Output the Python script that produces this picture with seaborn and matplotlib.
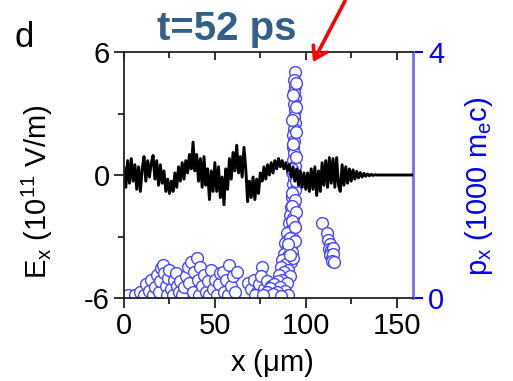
import numpy as np
import pandas as pd
import matplotlib
matplotlib.use("Agg")
import matplotlib.pyplot as plt
import seaborn as sns

# ---------------- data ----------------
# E_x (10^11 V/m) sampled every 1 um from 0 to 140 um, then flat to 160
E_x = list(range(0, 141)) + [160]
E_vals = [0.4, -0.6, 0.7, -0.4, 0.8, -0.3, 0.5, -0.7, 0.4, -0.8, 0.3,
          0.9, -0.3, 0.7, -0.1, 0.6, 0.95, -0.2, 0.7, -0.5, 0.5,
          -0.4, 0.2, -0.8, -0.2, -0.9, -0.3, -0.8, 0.1,
          -0.6, 0.4, -0.3, 0.6, -0.2, 0.7, 0.1, 1.0, 0.3, 1.6, 0.2, 1.0,
          -0.3, 0.8, -0.6, 0.9, -0.5, 0.3, -1.2, 0.2, -0.8, 0.6,
          -0.8, 0.4, -1.1, -0.1, -1.45, 0.3, -0.7, 0.8, -0.2, 1.1,
          0.2, 1.45, 0.1, 0.9, -0.1, 1.35, 0.3, -1.3, -0.3, -1.1,
          -0.1, -1.2, -0.2, -0.9, 0.1, -0.3, 0.4, -0.2, 0.5, 0.0,
          0.6, 0.1, 0.7, 0.3, 0.8, 0.4, 0.7, 0.3, 0.6, 0.2,
          0.5, -0.1, 0.4, -0.3, 0.3, -0.5, 0.2, -0.6, 0.1, -0.7,
          0.1, -0.8, 0.3, -0.7, 0.4, -1.0, 0.2, -0.8, 0.6, -0.5,
          0.7, -0.6, 0.85, -0.4, 0.8, -0.6, 0.85, -0.5, -0.8, 0.5,
          -0.5, 0.4, -0.4, 0.3, -0.3, 0.25, -0.2, 0.18, -0.14, 0.12,
          -0.1, 0.08, -0.06, 0.05, -0.04, 0.03, -0.02, 0.01, 0.0, 0.0,
          0.0]

# p_x (1000 m_e c) of particles
spike_x = [94.0, 93.8, 94.2, 93.6, 94.0, 93.4, 93.9, 93.3, 94.1, 93.5, 93.0,
           93.8, 92.8, 93.6, 93.1, 94.0, 92.7, 93.5, 92.9, 93.9, 92.5, 93.4,
           92.0, 93.6, 91.5, 92.8, 90.8, 93.3, 91.8, 89.8, 92.6, 90.5, 88.8,
           91.8, 89.5,
           92.5, 88.0, 90.5, 87.2, 91.8, 89.0, 86.5, 90.5, 88.0, 85.5, 91.5,
           87.0, 84.5, 89.5, 82.5, 86.0, 80.5, 88.5, 84.0, 78.5, 82.0, 90.5,
           86.5, 76.5,
           94.6, 92.9, 94.5, 92.6, 94.7, 92.8, 94.4, 92.4, 94.6, 92.7, 94.3,
           92.2, 94.5, 92.3, 94.2, 91.6, 94.0, 90.2, 93.0, 91.2]
spike_p = [3.67, 3.55, 3.45, 3.35, 3.25, 3.15, 3.05, 2.95, 2.85, 2.75, 2.65,
           2.55, 2.45, 2.35, 2.25, 2.15, 2.05, 1.95, 1.85, 1.75, 1.65, 1.55,
           1.48, 1.42, 1.35, 1.30, 1.22, 1.18, 1.10, 1.05, 1.00, 0.95, 0.90,
           0.85, 0.80,
           0.75, 0.72, 0.68, 0.62, 0.58, 0.55, 0.50, 0.46, 0.42, 0.38, 0.35,
           0.30, 0.28, 0.25, 0.22, 0.18, 0.16, 0.12, 0.10, 0.10, 0.06, 0.05,
           0.04, 0.05,
           3.50, 3.30, 3.10, 2.90, 2.70, 2.50, 2.30, 2.10, 1.90, 1.70, 1.60,
           1.50, 1.40, 1.25, 1.15, 0.98, 0.92, 0.88, 0.65, 0.70]
mid_x = [68, 70, 71.5, 73, 74, 76, 75.5, 77, 78.5, 80, 81, 72]
mid_p = [0.24, 0.15, 0.30, 0.10, 0.22, 0.50, 0.35, 0.15, 0.28, 0.10, 0.20, 0.05]
low_x = [2, 6, 9, 11, 12, 14, 15, 16, 17, 18, 19, 20, 20.5, 21.5, 22, 23,
         23.5, 24, 25, 26, 27, 27.5, 28.5, 29, 30, 31, 32, 33, 34, 35, 36, 37,
         38, 38.5, 40, 40.5, 41, 42, 43, 44, 45, 46, 47, 48, 49, 50, 51, 52,
         53, 54.5, 55, 56, 57, 58, 59, 60, 61, 62]
low_p = [0.05, 0.05, 0.10, 0.05, 0.22, 0.12, 0.30, 0.05, 0.18, 0.38, 0.10,
         0.28, 0.48, 0.54, 0.40, 0.20, 0.05, 0.32, 0.45, 0.15, 0.05, 0.30,
         0.40, 0.20, 0.10, 0.28, 0.05, 0.18, 0.35, 0.50, 0.25, 0.58, 0.10,
         0.42, 0.65, 0.30, 0.05, 0.50, 0.20, 0.38, 0.10, 0.28, 0.05, 0.45,
         0.15, 0.30, 0.05, 0.22, 0.40, 0.42, 0.10, 0.30, 0.05, 0.54, 0.20,
         0.35, 0.10, 0.42]
far_x = [109, 111.5, 112.5, 113.5, 112.8, 114, 114.8, 113.5, 114.5, 115, 114.2, 115.3]
far_p = [1.22, 1.05, 0.95, 0.88, 0.80, 0.78, 0.82, 0.70, 0.65, 0.72, 0.60, 0.58]

x_ticks = [0, 50, 100, 150]
E_ticks = [-6, 0, 6]
p_ticks = [0, 4]

# ---------------- style ----------------
sns.set_theme(style="ticks")
plt.rcParams["font.family"] = ["Liberation Sans", "DejaVu Sans"]
plt.rcParams["mathtext.fontset"] = "custom"
plt.rcParams["mathtext.rm"] = "Liberation Sans"
plt.rcParams["mathtext.it"] = "Liberation Sans:italic"
plt.rcParams["axes.unicode_minus"] = False
plt.rcParams["text.color"] = "black"
plt.rcParams["axes.labelcolor"] = "black"
plt.rcParams["xtick.color"] = "black"
plt.rcParams["ytick.color"] = "black"
FS = 21
BLUE_SPINE = "#6f6fff"
BLUE_MK = "#4646ff"

fig = plt.figure(figsize=(5.13, 3.81), dpi=100)
ax = fig.add_axes([124 / 513, 1 - 298 / 381, 289 / 513, 246 / 381])
ax2 = ax.twinx()

n = min(len(E_x), len(E_vals))
line_df = pd.DataFrame({"x": E_x[:n], "E": E_vals[:n]})
pts_df = pd.DataFrame({"x": low_x + mid_x + spike_x + far_x,
                       "p": low_p + mid_p + spike_p + far_p})

sns.scatterplot(data=pts_df, x="x", y="p", ax=ax2, s=72, marker="o",
                linewidth=1.0, legend=False)
coll = ax2.collections[-1]
coll.set_facecolor("white")
coll.set_edgecolor(BLUE_MK)

sns.lineplot(data=line_df, x="x", y="E", ax=ax, color="black", lw=2.1,
             estimator=None, sort=False)

ax.set_zorder(ax2.get_zorder() + 1)
ax.patch.set_visible(False)

ax.set_xlim(0, 159)
ax.set_ylim(-6, 6)
ax2.set_ylim(0, 4)

ax.set_xticks(x_ticks)
ax.set_xticks([25, 75, 125], minor=True)
ax.set_yticks(E_ticks)
ax.set_yticks([-3, 3], minor=True)
ax2.set_yticks(p_ticks)

for s in ["top", "bottom", "left"]:
    ax.spines[s].set_color("#222222")
    ax.spines[s].set_linewidth(1.3)
ax.spines["right"].set_visible(False)
for s in ["top", "bottom", "left"]:
    ax2.spines[s].set_visible(False)
ax2.spines["right"].set_color(BLUE_SPINE)
ax2.spines["right"].set_linewidth(2)

ax.tick_params(axis="both", which="major", direction="out", length=7,
               width=1.3, labelsize=FS, color="#222222", labelcolor="black",
               pad=3)
ax.tick_params(axis="both", which="minor", direction="out", length=4,
               width=1.3, color="#222222")
ax2.tick_params(axis="y", which="major", direction="out", length=7, width=1.5,
                labelsize=FS, colors="blue", pad=4)
ax2.tick_params(axis="y", which="minor", length=0)

# inward ticks on top and on right (mirrored)
sec_top = ax.secondary_xaxis("top")
sec_top.set_xticks(x_ticks)
sec_top.set_xticks([25, 75, 125], minor=True)
sec_top.tick_params(which="both", direction="in", labeltop=False,
                    color="#222222", width=1.3)
sec_top.tick_params(which="major", length=6)
sec_top.tick_params(which="minor", length=4)
sec_top.spines["top"].set_visible(False)
sec_r = ax.secondary_yaxis("right")
sec_r.set_yticks([0])
sec_r.tick_params(direction="in", length=9, width=1.3, labelright=False,
                  color="#222222")
sec_r.spines["right"].set_visible(False)

ax.set_xlabel(r"x ($\mathregular{\mu}$m)", fontsize=FS, color="black")
ax.xaxis.set_label_coords(0.512, -0.2)
ax.set_ylabel(r"E$_\mathregular{x}$ (10$^\mathregular{11}$ V/m)", fontsize=FS,
              color="black")
ax.yaxis.set_label_coords(-0.24, 0.433)
ax2.set_ylabel(r"p$_\mathregular{x}$ (1000 m$_\mathregular{e}$c)", fontsize=FS,
               color="blue", rotation=90)
ax2.yaxis.set_label_coords(1.173, 0.455)

fig.text(227 / 513, 1 - 40 / 381, "t=52 ps", ha="center", va="baseline",
         fontsize=29, fontweight="bold", color="#336088")
fig.text(15 / 513, 1 - 47 / 381, "d", ha="left", va="baseline", fontsize=25,
         color="black")
ax.annotate("", xy=(313 / 513, 1 - 62 / 381), xytext=(345 / 513, 1 - 1 / 381),
            xycoords="figure fraction", textcoords="figure fraction",
            arrowprops=dict(arrowstyle="->,head_length=0.7,head_width=0.45",
                            color="red", lw=2.6, shrinkA=0, shrinkB=0),
            annotation_clip=False)

fig.savefig("out.png", dpi=100)
